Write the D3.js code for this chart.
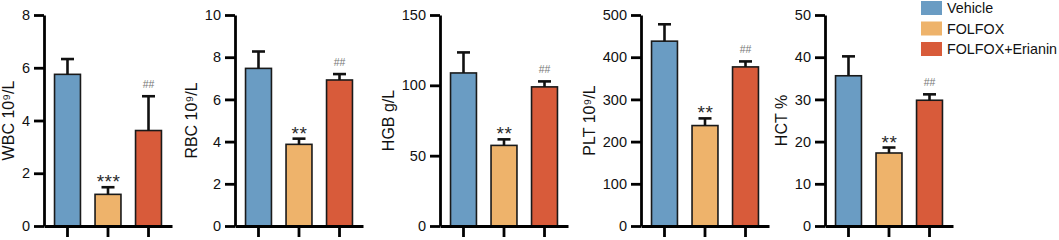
<!DOCTYPE html>
<html><head><meta charset="utf-8">
<script src="https://cdn.jsdelivr.net/npm/d3@7"></script>
<style>
body{margin:0;background:#fff;}
svg{display:block;font-family:"Liberation Sans",Arial,sans-serif;}
</style></head>
<body><svg id="c" width="1059" height="240"></svg>
<script>
// ---- data ----
const groups = ["Vehicle", "FOLFOX", "FOLFOX+Erianin"];
const colors = ["#6a9cc3", "#eeb36b", "#d85b3a"];
const yLabels = ["WBC 10⁹/L", "RBC 10⁹/L", "HGB g/L", "PLT 10⁹/L", "HCT %"];
const wbcMeans = [5.75, 1.2, 3.62];
const wbcErr = [0.58, 0.27, 1.3];
const rbcMeans = [7.47, 3.87, 6.92];
const rbcErr = [0.8, 0.27, 0.28];
const hgbMeans = [108.8, 57.3, 98.9];
const hgbErr = [14.6, 4.3, 3.9];
const pltMeans = [438, 238, 377];
const pltErr = [40, 17, 13];
const hctMeans = [35.6, 17.3, 29.8];
const hctErr = [4.6, 1.3, 1.4];
const wbcTicks = [0, 2, 4, 6, 8];
const rbcTicks = [0, 2, 4, 6, 8, 10];
const hgbTicks = [0, 50, 100, 150];
const pltTicks = [0, 100, 200, 300, 400, 500];
const hctTicks = [0, 10, 20, 30, 40, 50];
const sigFolfox = ["***", "**", "**", "**", "**"];
const sigErianin = ["##", "##", "##", "##", "##"];

const panels = [
  {label: yLabels[0], means: wbcMeans, err: wbcErr, ticks: wbcTicks},
  {label: yLabels[1], means: rbcMeans, err: rbcErr, ticks: rbcTicks},
  {label: yLabels[2], means: hgbMeans, err: hgbErr, ticks: hgbTicks},
  {label: yLabels[3], means: pltMeans, err: pltErr, ticks: pltTicks},
  {label: yLabels[4], means: hctMeans, err: hctErr, ticks: hctTicks}
];

// ---- layout ----
const axisX = [44, 235, 440, 641, 825];
const panelW = 128, plotTop = 15, plotBottom = 226;
const svg = d3.select("#c");

panels.forEach((p, i) => {
  const g = svg.append("g").attr("transform", `translate(${axisX[i]},0)`);
  const x = d3.scaleBand().domain(groups).range([0, panelW]).paddingInner(0.36).paddingOuter(0.26);
  const y = d3.scaleLinear().domain([0, d3.max(p.ticks)]).range([plotBottom, plotTop]);

  // bars
  g.selectAll("rect.bar").data(groups).join("rect")
    .attr("class", "bar")
    .attr("x", d => x(d))
    .attr("width", x.bandwidth())
    .attr("y", (d, j) => y(p.means[j]))
    .attr("height", (d, j) => plotBottom - y(p.means[j]))
    .attr("fill", (d, j) => colors[j])
    .attr("stroke", "#1a1a1a").attr("stroke-width", 1.6);

  // error bars (upper only)
  groups.forEach((d, j) => {
    const cx = x(d) + x.bandwidth() / 2;
    const yt = y(p.means[j] + p.err[j]);
    g.append("line").attr("x1", cx).attr("x2", cx)
      .attr("y1", y(p.means[j])).attr("y2", yt)
      .attr("stroke", "#111").attr("stroke-width", 2.6);
    g.append("line").attr("x1", cx - 6.5).attr("x2", cx + 6.5)
      .attr("y1", yt).attr("y2", yt)
      .attr("stroke", "#111").attr("stroke-width", 2.6);
  });

  // significance
  const c1 = x(groups[1]) + x.bandwidth() / 2;
  g.append("text").attr("x", c1 + 0.5).attr("y", y(p.means[1] + p.err[1]) + 1)
    .attr("text-anchor", "middle").attr("font-size", 19).attr("fill", "#2a2a2a")
    .attr("letter-spacing", 0.5)
    .text(sigFolfox[i]);
  const c2 = x(groups[2]) + x.bandwidth() / 2;
  g.append("text").attr("x", c2).attr("y", y(p.means[2] + p.err[2]) - 8)
    .attr("text-anchor", "middle").attr("font-size", 10.5).attr("fill", "#777")
    .text(sigErianin[i]);

  // y axis
  const ya = g.append("g").call(d3.axisLeft(y).tickValues(p.ticks).tickSize(10).tickPadding(4).tickSizeOuter(0));
  ya.select(".domain").attr("stroke", "#000").attr("stroke-width", 2.8);
  ya.selectAll(".tick line").attr("stroke", "#000").attr("stroke-width", 2.8);
  ya.selectAll(".tick text").attr("font-size", 14.5).attr("fill", "#111")
    .attr("font-family", "Liberation Sans, Arial, sans-serif");

  // x axis
  const xa = g.append("g").attr("transform", `translate(0,${plotBottom})`)
    .call(d3.axisBottom(x).tickSize(11).tickSizeOuter(0).tickFormat(""));
  xa.select(".domain").attr("stroke", "#000").attr("stroke-width", 2.8);
  xa.selectAll(".tick line").attr("stroke", "#000").attr("stroke-width", 2.8);

  // y label
  const bb = ya.node().getBBox();
  g.append("text")
    .attr("transform", `translate(${bb.x - 8},${(plotTop + plotBottom) / 2}) rotate(-90)`)
    .attr("text-anchor", "middle").attr("font-size", 16).attr("fill", "#111")
    .text(p.label);
});

// legend
const leg = svg.append("g").attr("transform", "translate(921,1)");
groups.forEach((d, j) => {
  const row = leg.append("g").attr("transform", `translate(0,${j * 20.5})`);
  row.append("rect").attr("x", 0).attr("y", 0).attr("width", 21).attr("height", 14).attr("fill", colors[j]);
  row.append("text").attr("x", 26).attr("y", 7).attr("dy", "0.36em")
    .attr("font-size", 14.3).attr("fill", "#111").text(d);
});
</script></body></html>
